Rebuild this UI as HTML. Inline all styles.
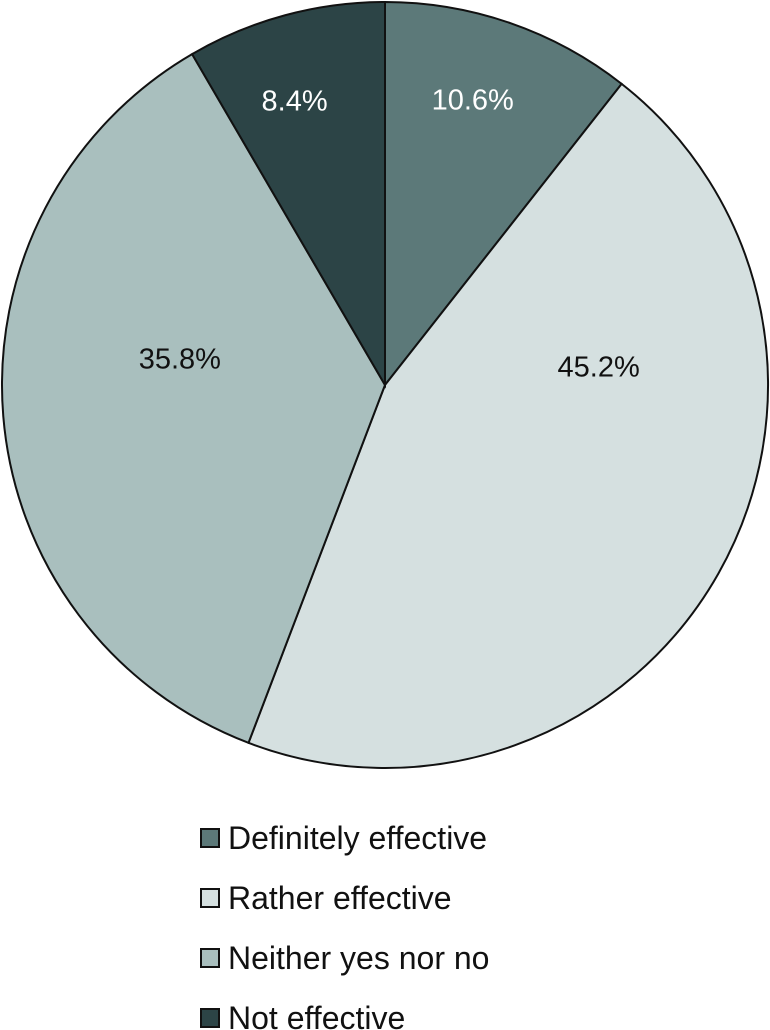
<!DOCTYPE html>
<html><head><meta charset="utf-8"><style>
body{margin:0;background:#fff;width:770px;height:1030px;overflow:hidden}
svg{display:block}
</style></head><body>
<svg id="chart" width="770" height="1030" xmlns="http://www.w3.org/2000/svg"></svg>
<script>
const categories = ["Definitely effective","Rather effective","Neither yes nor no","Not effective"];
const values = [10.6, 45.2, 35.8, 8.4];
const valueLabels = ["10.6%","45.2%","35.8%","8.4%"];
const colors = ["#5c7979","#d5e0e0","#a9bfbe","#2c4446"];
const svg = document.getElementById('chart');
const NS = "http://www.w3.org/2000/svg";
const cx = 385, cy = 385, r = 383;
const total = values.reduce((a,b)=>a+b,0);
let a0 = 0;
const labelR = [0.78,0.56,0.54,0.78];
const labelAngOff = [-2,-34.5,12,-2.5];
values.forEach((v,i)=>{
  const a1 = a0 + v/total*2*Math.PI;
  const x0 = cx + r*Math.sin(a0), y0 = cy - r*Math.cos(a0);
  const x1 = cx + r*Math.sin(a1), y1 = cy - r*Math.cos(a1);
  const large = (a1-a0) > Math.PI ? 1 : 0;
  const p = document.createElementNS(NS,'path');
  p.setAttribute('d',`M${cx},${cy} L${x0},${y0} A${r},${r} 0 ${large} 1 ${x1},${y1} Z`);
  p.setAttribute('fill',colors[i]);
  p.setAttribute('stroke','#111');
  p.setAttribute('stroke-width','2');
  
  
  svg.appendChild(p);
  const am = (a0+a1)/2 + labelAngOff[i]*Math.PI/180;
  const t = document.createElementNS(NS,'text');
  t.setAttribute('x', cx + r*labelR[i]*Math.sin(am));
  t.setAttribute('y', cy - r*labelR[i]*Math.cos(am) + 10);
  t.setAttribute('text-anchor','middle');
  t.setAttribute('font-family','"Liberation Sans", sans-serif');
  t.setAttribute('font-size','29');
  t.setAttribute('fill', i===0||i===3 ? '#fff' : '#111');
  t.textContent = valueLabels[i];
  
  
  svg.appendChild(t);
  a0 = a1;
});
categories.forEach((c,i)=>{
  const y = 838 + i*60;
  const g = document.createElementNS(NS,'g');
  
  
  const rc = document.createElementNS(NS,'rect');
  rc.setAttribute('x',201); rc.setAttribute('y',y-9);
  rc.setAttribute('width',18); rc.setAttribute('height',18);
  rc.setAttribute('fill',colors[i]); rc.setAttribute('stroke','#111'); rc.setAttribute('stroke-width','2');
  
  
  g.appendChild(rc);
  const t = document.createElementNS(NS,'text');
  t.setAttribute('x',228); t.setAttribute('y',y+11);
  t.setAttribute('font-family','"Liberation Sans", sans-serif');
  t.setAttribute('font-size','32'); t.setAttribute('fill','#111');
  t.textContent = c;
  
  
  g.appendChild(t);
  svg.appendChild(g);
});
</script>
</body></html>
